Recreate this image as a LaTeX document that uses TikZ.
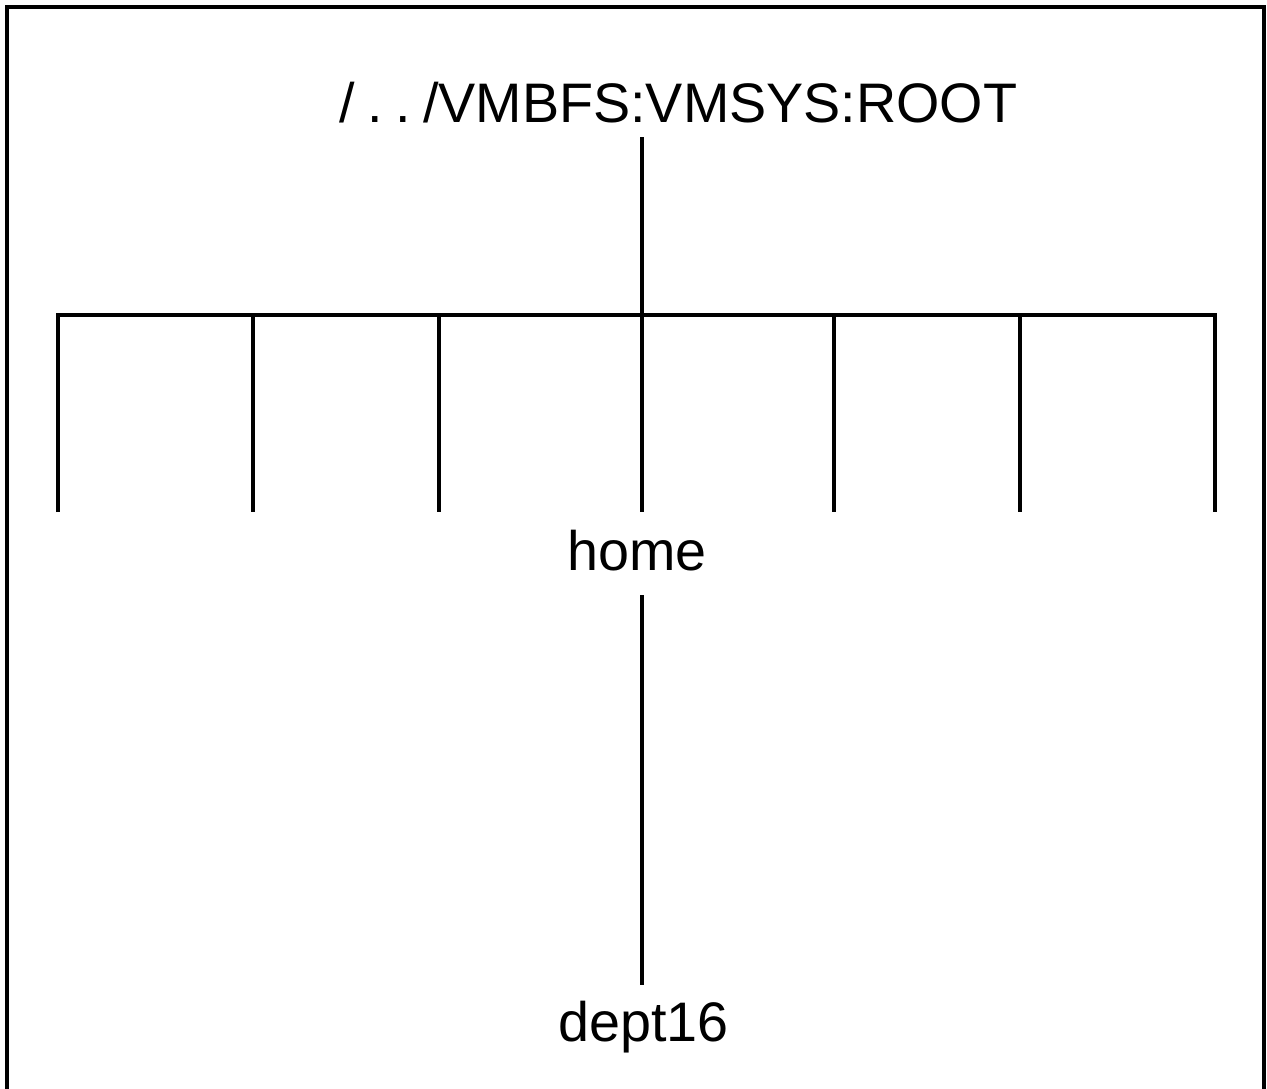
\documentclass[tikz,border=0pt]{standalone}
\usepackage{fontspec}
\setmainfont{Liberation Sans}
\begin{document}
\begin{tikzpicture}[x=0.02cm,y=-0.02cm,
  lbl/.style={font=\fontsize{31.7}{38}\selectfont, inner sep=0pt, anchor=base},
  conn/.style={line width=2.5pt},
  frame/.style={line width=2.5pt}]
\useasboundingbox (0,0) rectangle (1267,1088);
\draw[frame] (7,1092) -- (7,7) -- (1264,7) -- (1264,1092);
\node[lbl] (root) at (678.5,122) {/\hspace{0.22em}.\hspace{0.22em}.\hspace{0.22em}/VMBFS:VMSYS:ROOT};
\node[lbl] (home) at (637,570) {home};
\node[lbl] (dept) at (643.5,1041) {dept16};
\coordinate (rootfoot) at (642,137);
\coordinate (hub) at (642,315);
\foreach \n/\x in {a/58,b/253,c/439,d/642,e/834,f/1020,g/1215}{
  \coordinate (top\n) at (\x,315);
  \coordinate (end\n) at (\x,512);
}
\coordinate (homefoot) at (642,595);
\coordinate (depttop) at (642,985);
\draw[conn] (rootfoot) -- (hub);
\draw[conn] (enda) -- (topa) -- (topg) -- (endg);
\foreach \n in {b,c,d,e,f}{\draw[conn] (top\n) -- (end\n);}
\draw[conn] (homefoot) -- (depttop);
\end{tikzpicture}
\end{document}
